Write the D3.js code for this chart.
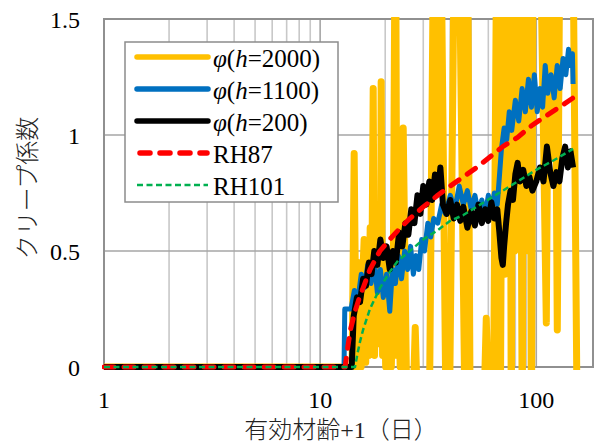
<!DOCTYPE html>
<html>
<head>
<meta charset="utf-8">
<script src="https://cdn.jsdelivr.net/npm/d3@7"></script>
<style>
	body { margin: 0; background: #fff; }
	.serif { font-family: 'Liberation Serif', 'DejaVu Serif', serif; }
	.cjk { font-family: 'Liberation Serif', 'Noto Sans CJK JP', serif; }
</style>
</head>
<body>
<div id="chart"></div>
<script>
// x = 有効材齢+1 (days), y = クリープ係数
var xTicks = [1, 10, 100];
var yTicks = [0, 0.5, 1, 1.5];

var h2000 = [[1,0],[14.06,0],[14.37,0.92],[14.68,0],[14.95,0.3],[15.16,0.05],[15.35,0.45],[15.48,0],[15.75,0.4],[15.98,0.55],
	[16.25,0.02],[16.51,0.45],[16.8,0.05],[17.04,0.6],[17.3,0.2],[17.6,1.2],[17.85,0.05],[18.17,0.5],[18.45,0.1],[18.76,0.5],
	[19.0,0.2],[19.16,1.23],[19.45,0.05],[19.79,0.4],[20.1,0],[20.43,0.45],[20.75,0.05],[21.1,0.35],[21.35,0],[21.8,0.4],
	[22.3,2.2],[22.7,0.05],[23.1,0.3],[23.46,0],[24.23,1.03],
	[25.28,-0.3],[26.67,-0.3],[27.54,0.17],[28.43,-0.3],[31.96,-0.3],[33.72,2.2],[34.81,0.8],[35.94,2.2],[38.31,-0.3],[39.56,-0.3],
	[42.17,2.2],[43.54,2.2],[46.92,-0.3],[47.93,2.2],[49.49,-0.3],[56.85,-0.3],[58.7,0.21],[60.59,-0.3],[63.23,-0.3],[65.98,2.2],
	[68.13,-0.3],[70.2,2.2],[71.6,0.4],[73.0,2.2],[74.21,0.6],[75.5,2.2],[76.62,-0.3],[78.0,2.2],[79.5,0.5],[81.0,2.2],
	[82.55,0.7],[84.0,2.2],[86.14,-0.3],[87.5,2.2],[88.94,0.6],[90.3,2.2],[91.8,0.5],[93.3,2.2],[95.0,-0.3],[96.85,2.2],
	[103.2,2.2],[111.3,0.19],[114.9,2.2],[118.6,0.9],[121.2,2.2],[125.1,0.16],[129.2,2.2],[146.8,2.2],[154.8,-0.3]];

var h1100 = [[1,0],[12.9,0],[13.0,0.25],[13.9,0.25],[14.4,0.33],[14.9,0.28],[15.5,0.40],[16.0,0.34],[16.6,0.44],[17.2,0.36],
	[17.8,0.46],[18.4,0.32],[19.0,0.42],[19.6,0.30],[20.3,0.40],[21.0,0.24],[21.6,0.42],[22.3,0.36],[23.0,0.48],[23.8,0.38],
	[24.6,0.50],[25.4,0.42],[26.2,0.52],[27.0,0.40],[27.8,0.48],[28.6,0.42],[29.5,0.55],[30.4,0.50],[31.5,0.62],[32.5,0.56],
	[33.5,0.64],[35,0.62],[36.5,0.70],[38,0.66],[40,0.74],[42,0.68],[44,0.78],[46,0.70],[48,0.76],[50,0.68],
	[52,0.74],[54,0.66],[56,0.72],[58,0.65],[60,0.74],[62,0.68],[64,0.75],[66,0.70],[67.5,0.82],[69,0.94],
	[71,1.03],[73,0.98],[75,1.10],[77,1.02],[80,1.15],[83,1.06],[86,1.20],[89,1.10],[92,1.24],[95,1.12],
	[98,1.26],[101,1.10],[104,1.20],[107,1.12],[110,1.30],[113,1.18],[117,1.26],[121,1.16],[125,1.30],[129,1.20],
	[133,1.33],[137,1.26],[141,1.37],[144,1.30],[147,1.35],[148,1.22]];

var h200 = [[1,0],[14.0,0],[14.3,0.22],[14.8,0.30],[15.3,0.28],[15.8,0.38],[16.3,0.35],[16.8,0.45],[17.3,0.40],[17.8,0.50],
	[18.4,0.44],[19.0,0.55],[19.6,0.47],[20.3,0.52],[21.0,0.42],[21.7,0.50],[22.4,0.45],[23.2,0.58],[24.0,0.52],[24.8,0.62],
	[25.6,0.57],[26.4,0.68],[27.3,0.62],[28.2,0.74],[29.1,0.66],[30.0,0.78],[31.0,0.70],[32.0,0.80],[33.0,0.72],[34.0,0.83],
	[35.0,0.75],[36.0,0.86],[37.0,0.70],[38.5,0.66],[40.0,0.72],[41.5,0.64],[43.0,0.70],[44.5,0.63],[46.0,0.69],[48.0,0.60],
	[50.0,0.67],[52.0,0.61],[54.0,0.70],[56.0,0.62],[58.0,0.68],[60.0,0.63],[62.0,0.71],[64.0,0.64],[66.0,0.68],[67.5,0.58],
	[69.0,0.47],[70.0,0.44],[71.0,0.52],[72.5,0.62],[74.0,0.70],[76.0,0.76],[78.0,0.72],[80.0,0.83],[82.0,0.88],[84.0,0.80],
	[87.0,0.85],[90.0,0.78],[93.0,0.82],[96.0,0.76],[100,0.80],[104,0.86],[108,0.80],[112,0.95],[116,0.84],[120,0.78],
	[124,0.84],[128,0.80],[132,0.90],[136,0.95],[140,0.86],[144,0.93],[148,0.86]];

var rh87 = [[1,0],[13.05,0],[13.4,0.08],[13.8,0.16],[14.5,0.24],[15.2,0.30],[15.8,0.34],[17,0.42],[18.9,0.50],[21,0.55],
	[23.5,0.60],[26,0.64],[30,0.69],[35,0.74],[40,0.78],[46,0.82],[53,0.86],[60,0.90],[70,0.95],[82,0.99],
	[95,1.04],[110,1.08],[128,1.12],[148,1.16]];

var rh101 = [[1,0],[14.5,0],[14.9,0.06],[15.3,0.11],[15.8,0.16],[17,0.25],[18.9,0.34],[21,0.41],[23,0.46],[25.3,0.49],
	[30,0.55],[35,0.59],[40,0.63],[46,0.655],[55,0.70],[62,0.73],[70,0.76],[82,0.80],[100,0.85],[120,0.89],[148,0.94]];

var series = [
	{ name: 'h=2000', data: h2000, color: '#ffc000', width: 7, dash: null },
	{ name: 'h=1100', data: h1100, color: '#0070c0', width: 5, dash: null },
	{ name: 'h=200', data: h200, color: '#000000', width: 6, dash: null },
	{ name: 'RH87', data: rh87, color: '#ff0000', width: 5, dash: '10,10' },
	{ name: 'RH101', data: rh101, color: '#00b050', width: 2.5, dash: '6,3.5' }
];

(function() {
	var W = 597, H = 445;
	var left = 104, right = 593, top = 19, bottom = 367;

	var svg = d3.select('#chart').append('svg')
		.attr('width', W)
		.attr('height', H);

	var x = d3.scaleLog().domain([1, 183]).range([left, right]);
	var y = d3.scaleLinear().domain([0, 1.5]).range([bottom, top]);

	// grid
	var grid = svg.append('g');
	grid.selectAll('line.v')
		.data(x.ticks().filter(function(d) { return d > 1 && d < 183; }))
		.enter().append('line')
		.attr('x1', function(d) { return x(d); })
		.attr('x2', function(d) { return x(d); })
		.attr('y1', top).attr('y2', bottom)
		.attr('stroke', function(d) { return xTicks.indexOf(d) > -1 ? '#a6a6a6' : '#c8c8c8'; })
		.attr('stroke-width', 1.6);
	grid.selectAll('line.h')
		.data(yTicks.filter(function(d) { return d > 0 && d < 1.5; }))
		.enter().append('line')
		.attr('x1', left).attr('x2', right)
		.attr('y1', function(d) { return y(d); })
		.attr('y2', function(d) { return y(d); })
		.attr('stroke', '#a6a6a6')
		.attr('stroke-width', 1.6);

	svg.append('rect')
		.attr('x', left).attr('y', top)
		.attr('width', right - left).attr('height', bottom - top)
		.attr('fill', 'none')
		.attr('stroke', '#909090')
		.attr('stroke-width', 2);

	// tick labels
	svg.append('g').selectAll('text')
		.data(yTicks)
		.enter().append('text')
		.attr('class', 'serif')
		.attr('x', 80)
		.attr('y', function(d) { return y(d) + 9; })
		.attr('text-anchor', 'end')
		.attr('font-size', 24)
		.text(function(d) { return d; });
	svg.append('g').selectAll('text')
		.data(xTicks)
		.enter().append('text')
		.attr('class', 'serif')
		.attr('x', function(d) { return x(d); })
		.attr('y', bottom + 41)
		.attr('text-anchor', 'middle')
		.attr('font-size', 24)
		.text(function(d) { return d; });

	// axis titles
	svg.append('text')
		.attr('transform', 'translate(25,188) rotate(-90)')
		.attr('text-anchor', 'middle')
		.attr('dominant-baseline', 'central')
		.style('font-family', "'Noto Sans CJK JP', sans-serif")
		.attr('font-weight', 300)
		.attr('font-size', 24)
		.attr('fill', '#222')
		.text('クリープ係数');
	svg.append('text')
		.attr('class', 'cjk')
		.attr('x', 341).attr('y', 438)
		.attr('text-anchor', 'middle')
		.attr('font-weight', 300)
		.attr('font-size', 24)
		.attr('fill', '#222')
		.text('有効材齢+1（日）');

	// series
	svg.append('clipPath').attr('id', 'plotClip')
		.append('rect')
		.attr('x', left - 2).attr('y', top - 2)
		.attr('width', right - left + 2).attr('height', bottom - top + 5);

	var line = d3.line()
		.x(function(d) { return x(d[0]); })
		.y(function(d) { return y(d[1]); });

	svg.append('g')
		.attr('clip-path', 'url(#plotClip)')
		.selectAll('path')
		.data(series)
		.enter().append('path')
		.attr('d', function(d) { return line(d.data); })
		.attr('fill', 'none')
		.attr('stroke', function(d) { return d.color; })
		.attr('stroke-width', function(d) { return d.width; })
		.attr('stroke-dasharray', function(d) { return d.dash; })
		.attr('stroke-linejoin', 'round')
		.attr('stroke-linecap', function(d) { return d.dash && d.width > 3 ? 'round' : 'butt'; });

	// legend
	var legend = svg.append('g');
	legend.append('rect')
		.attr('x', 125).attr('y', 42)
		.attr('width', 213).attr('height', 160)
		.attr('fill', '#fff')
		.attr('stroke', '#8c8c8c')
		.attr('stroke-width', 1.5);
	var item = legend.selectAll('g.item')
		.data(series)
		.enter().append('g')
		.attr('transform', function(d, i) { return 'translate(0,' + (57 + i * 32) + ')'; });
	item.append('line')
		.attr('x1', function(d) { return d.dash && d.width > 3 ? 140 : 137; })
		.attr('x2', function(d) { return d.dash && d.width > 3 ? 207 : 208; })
		.attr('stroke', function(d) { return d.color; })
		.attr('stroke-width', function(d) { return d.width > 3 ? 5.5 : 2.5; })
		.attr('stroke-dasharray', function(d) { return d.dash; })
		.attr('stroke-linecap', function(d) { return d.dash && d.width < 3 ? 'butt' : 'round'; });
	var label = item.append('text')
		.attr('class', 'serif')
		.attr('x', 213)
		.attr('y', 10)
		.attr('font-size', 25);
	label.each(function(d) {
		var t = d3.select(this);
		if(d.name.indexOf('h=') === 0) {
			t.append('tspan').attr('font-style', 'italic').text('φ');
			t.append('tspan').text('(');
			t.append('tspan').attr('font-style', 'italic').text('h');
			t.append('tspan').text(d.name.slice(1) + ')');
		} else {
			t.text(d.name);
		}
	});
})();
</script>
</body>
</html>
